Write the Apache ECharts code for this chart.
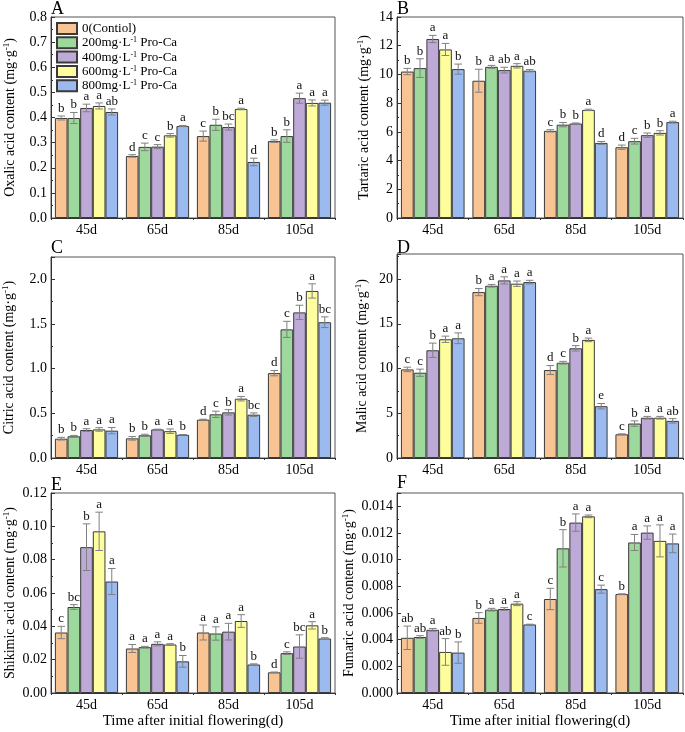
<!DOCTYPE html>
<html>
<head>
<meta charset="utf-8">
<script src="https://cdn.jsdelivr.net/npm/echarts@6/dist/echarts.min.js"></script>
<style>html,body{margin:0;padding:0;background:#fff}#c{width:685px;height:732px}</style>
</head>
<body>
<div id="c"></div>
<script>
// ---------- data ----------
const categories = ['45d', '65d', '85d', '105d'];
const treatments = ['0(Contiol)', '200mg·L-1 Pro-Ca', '400mg·L-1 Pro-Ca', '600mg·L-1 Pro-Ca', '800mg·L-1 Pro-Ca'];

// rows: treatments, columns: categories
const oxalicMean = [[0.398,0.247,0.326,0.306],[0.398,0.283,0.371,0.326],[0.438,0.284,0.362,0.477],[0.446,0.329,0.434,0.458],[0.422,0.366,0.223,0.459]];
const oxalicErr  = [[0.008,0.005,0.020,0.005],[0.022,0.015,0.022,0.025],[0.015,0.008,0.012,0.020],[0.012,0.007,0.003,0.012],[0.012,0.002,0.015,0.010]];
const oxalicSig  = [['b','d','c','b'],['b','c','b','b'],['a','c','bc','a'],['a','b','a','a'],['ab','a','d','a']];

const tartaricMean = [[10.2,9.56,6.07,4.93],[10.44,10.53,6.5,5.35],[12.47,10.3,6.58,5.77],[11.74,10.6,7.53,5.93],[10.37,10.26,5.23,6.68]];
const tartaricErr  = [[0.22,0.8,0.08,0.15],[0.65,0.1,0.15,0.2],[0.25,0.2,0.04,0.15],[0.42,0.15,0.05,0.15],[0.35,0.08,0.1,0.06]];
const tartaricSig  = [['b','b','c','d'],['b','a','b','c'],['a','ab','b','b'],['a','a','a','b'],['b','ab','d','a']];

const citricMean = [[0.216,0.22,0.429,0.95],[0.243,0.254,0.489,1.44],[0.313,0.32,0.511,1.63],[0.32,0.3,0.664,1.87],[0.306,0.26,0.485,1.52]];
const citricErr  = [[0.015,0.02,0.005,0.03],[0.01,0.012,0.035,0.09],[0.015,0.003,0.03,0.08],[0.02,0.025,0.025,0.08],[0.035,0.003,0.02,0.06]];
const citricSig  = [['b','b','d','d'],['b','b','c','c'],['a','a','b','b'],['a','a','a','a'],['a','b','bc','bc']];

const malicMean = [[9.9,18.54,9.83,2.65],[9.53,19.25,10.65,3.85],[12.04,19.85,12.26,4.5],[13.27,19.48,13.2,4.5],[13.38,19.66,5.79,4.15]];
const malicErr  = [[0.25,0.4,0.5,0.05],[0.4,0.15,0.15,0.3],[0.8,0.4,0.3,0.15],[0.35,0.3,0.2,0.15],[0.6,0.2,0.3,0.25]];
const malicSig  = [['c','b','d','c'],['c','a','c','b'],['b','a','b','a'],['a','a','a','a'],['a','a','e','ab']];

const shikimicMean = [[0.0363,0.0267,0.0363,0.0124],[0.0516,0.0275,0.0357,0.0239],[0.0875,0.0295,0.0368,0.0279],[0.097,0.0291,0.0432,0.0406],[0.0669,0.019,0.0171,0.0327]];
const shikimicErr  = [[0.0037,0.0024,0.0045,0.0002],[0.0014,0.0005,0.004,0.0008],[0.014,0.0012,0.005,0.007],[0.0115,0.0005,0.0038,0.0022],[0.0078,0.0035,0.0004,0.0005]];
const shikimicSig  = [['c','a','a','d'],['bc','a','a','c'],['b','a','a','bc'],['a','a','a','a'],['a','b','b','b']];

const fumaricMean = [[0.00414,0.00563,0.00705,0.00742],[0.0042,0.00625,0.01085,0.01129],[0.00474,0.0063,0.01278,0.01203],[0.00308,0.0067,0.01325,0.01141],[0.00303,0.00514,0.00779,0.01122]];
const fumaricErr  = [[0.00088,0.0004,0.0008,0.00002],[0.0001,0.0001,0.0014,0.0006],[0.0001,0.0001,0.00065,0.0005],[0.001,0.00015,0.0001,0.0012],[0.0008,0.00002,0.0003,0.0007]];
const fumaricSig  = [['ab','b','c','b'],['ab','a','b','a'],['a','a','a','a'],['ab','a','a','a'],['b','c','c','a']];

// ---------- style / layout ----------
const colors = ['#F9C493', '#9DD89C', '#BEAAD6', '#FEFE9E', '#9BBAF0'];
const FONT = '"Liberation Serif", "Times New Roman", serif';
const GAP = 0.11;

const panels = [
  {tag:'A', name:'Oxalic acid content', mean:oxalicMean, err:oxalicErr, sig:oxalicSig, max:0.8, interval:0.1, dec:1, left:51, top:17, w:284, h:201, nameGap:33, tTop:0, showMax:true},
  {tag:'B', name:'Tartaric acid content', mean:tartaricMean, err:tartaricErr, sig:tartaricSig, max:14, interval:2, dec:0, left:397, top:17, w:286, h:201, nameGap:25, tTop:0, showMax:true},
  {tag:'C', name:'Citric acid content', mean:citricMean, err:citricErr, sig:citricSig, max:2.25, interval:0.5, dec:1, left:51, top:257, w:284, h:201, nameGap:34, tTop:239, showMax:false},
  {tag:'D', name:'Malic acid content', mean:malicMean, err:malicErr, sig:malicSig, max:22.8, interval:5, dec:0, left:397, top:254, w:286, h:204, nameGap:27, tTop:239, showMax:false},
  {tag:'E', name:'Shikimic acid content', mean:shikimicMean, err:shikimicErr, sig:shikimicSig, max:0.12, interval:0.02, dec:2, left:51, top:493, w:284, h:200, nameGap:32, tTop:476, showMax:true, xName:true},
  {tag:'F', name:'Fumaric acid content', mean:fumaricMean, err:fumaricErr, sig:fumaricSig, max:0.015, interval:0.002, dec:3, left:397, top:493, w:286, h:200, nameGap:33, tTop:474, showMax:false, xName:true}
];

const supRich = {sup:{fontSize:9, fontFamily:FONT, color:'#000', verticalAlign:'top', lineHeight:16}};

const option = {
  animation:false,
  backgroundColor:'#fff',
  title:[], grid:[], xAxis:[], yAxis:[], series:[],
  legend:{
    data:treatments, orient:'vertical', left:56, top:22, padding:0,
    itemWidth:20, itemHeight:11, itemGap:1.3,
    icon:'rect',
    formatter: n => n.replace('-1', '{sup|-1}'),
    textStyle:{fontFamily:FONT, fontSize:13, color:'#000', lineHeight:13, rich:{sup:{fontSize:8, fontFamily:FONT, color:'#000', verticalAlign:'top', lineHeight:13}}}
  }
};

panels.forEach((p, gi) => {
  option.title.push({text:p.tag, left:p.left, top:p.tTop, padding:0,
    textStyle:{fontFamily:FONT, fontSize:18, fontWeight:'normal', color:'#000'}});
  option.grid.push({left:p.left, top:p.top, width:p.w, height:p.h, show:true,
    borderColor:'#555', borderWidth:1, containLabel:false});
  option.xAxis.push({
    type:'category', gridIndex:gi, data:categories, boundaryGap:true,
    axisLine:{lineStyle:{color:'#333', width:1}},
    axisTick:{show:true, alignWithLabel:false, length:2, lineStyle:{color:'#333'}},
    axisLabel:{fontFamily:FONT, fontSize:14, color:'#000', margin:5},
    name: p.xName ? 'Time after initial flowering(d)' : '',
    nameLocation:'middle', nameGap:21,
    nameTextStyle:{fontFamily:FONT, fontSize:15, color:'#000'}
  });
  option.yAxis.push({
    type:'value', gridIndex:gi, min:0, max:p.max, interval:p.interval,
    axisLine:{show:true, lineStyle:{color:'#333', width:1}},
    axisTick:{show:true, inside:true, length:4, lineStyle:{color:'#333'}},
    minorTick:{show:true, splitNumber:2, length:2, lineStyle:{color:'#333'}},
    splitLine:{show:false},
    axisLabel:{fontFamily:FONT, fontSize:14, color:'#000', margin:4, showMaxLabel:p.showMax,
      formatter: v => Number(v).toFixed(p.dec)},
    name: p.name + ' (mg·g{sup|-1})',
    nameLocation:'middle', nameGap:p.nameGap, nameRotate:90,
    nameTextStyle:{fontFamily:FONT, fontSize:14, color:'#000', lineHeight:16, rich:supRich}
  });
  treatments.forEach((t, s) => {
    option.series.push({
      type:'bar', name:t, xAxisIndex:gi, yAxisIndex:gi, data:p.mean[s],
      barGap:'0%', barCategoryGap:(GAP*100)+'%',
      itemStyle:{color:colors[s], borderColor:'#3a3a3a', borderWidth:1},
      silent:true
    });
  });
  const ed = [];
  for (let s = 0; s < 5; s++) for (let c = 0; c < 4; c++) ed.push([c, p.mean[s][c], p.err[s][c], s]);
  option.series.push({
    type:'custom', xAxisIndex:gi, yAxisIndex:gi, data:ed, z:10, silent:true,
    encode:{x:0, y:1},
    renderItem:(params, api) => {
      const c = api.value(0), v = api.value(1), e = api.value(2), s = api.value(3);
      const base = api.coord([c, v]);
      const catW = api.size([1, 0])[0];
      const groupW = catW * (1 - GAP);
      const bw = groupW / 5;
      const x = base[0] - groupW / 2 + bw * (s + 0.5);
      const yt = api.coord([c, v + e])[1];
      const yb = api.coord([c, v - e])[1];
      const cap = bw * 0.3;
      const ls = {stroke:'#808080', lineWidth:1};
      return {type:'group', children:[
        {type:'line', shape:{x1:x, y1:yt, x2:x, y2:yb}, style:ls},
        {type:'line', shape:{x1:x-cap, y1:yt, x2:x+cap, y2:yt}, style:ls},
        {type:'line', shape:{x1:x-cap, y1:yb, x2:x+cap, y2:yb}, style:ls},
        {type:'text', x:x, y:yt - 1, style:{text:p.sig[s][c], align:'center', verticalAlign:'bottom',
          textAlign:'center', textVerticalAlign:'bottom', fontFamily:FONT, fontSize:13, fill:'#111'}}
      ]};
    }
  });
});

const chart = echarts.init(document.getElementById('c'), null, {renderer:'canvas'});
chart.setOption(option);
</script>
</body>
</html>
